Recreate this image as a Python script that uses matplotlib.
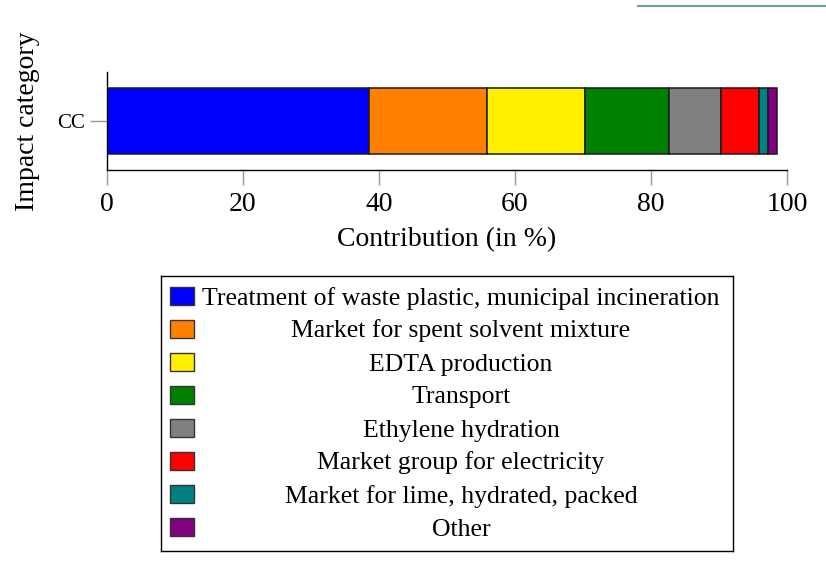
import matplotlib
matplotlib.use("Agg")
import matplotlib.pyplot as plt
from matplotlib.patches import Rectangle
from matplotlib.lines import Line2D

plt.rcParams['font.family'] = ['Liberation Serif', 'DejaVu Serif']

# contributions to climate change (CC), in %
category = ["CC"]
processes = [
    "Treatment of waste plastic, municipal incineration",
    "Market for spent solvent mixture",
    "EDTA production",
    "Transport",
    "Ethylene hydration",
    "Market group for electricity",
    "Market for lime, hydrated, packed",
    "Other",
]
shares = [38.6, 17.3, 14.4, 12.3, 7.7, 5.6, 1.35, 1.35]
colors = ["#0000ff", "#ff8000", "#fff000", "#008000",
          "#808080", "#ff0000", "#008080", "#800080"]
x_ticks = [0, 20, 40, 60, 80, 100]

W, H = 826, 561
fig = plt.figure(figsize=(W / 100, H / 100), dpi=100)

def px_axes(left, top, right, bottom):
    return fig.add_axes([left / W, 1 - bottom / H, (right - left) / W, (bottom - top) / H])

# stacked bar
ax = px_axes(107, 72, 787, 170)
left = 0
for name, val, col in zip(processes, shares, colors):
    ax.barh(category, [val], left=left, height=1.0, color=col,
            edgecolor="#1a1a1a", linewidth=1.1, label=name)
    left += val

ax.set_xlim(0, 100)
ax.set_ylim(-0.75, 0.75)
ax.set_xticks(x_ticks)
ax.spines['top'].set_visible(False)
ax.spines['right'].set_visible(False)
for s in ('left', 'bottom'):
    ax.spines[s].set_linewidth(1.0)
ax.tick_params(axis='x', direction='out', length=11, width=1.0, color='#999999',
               labelsize=20, pad=5)
ax.tick_params(axis='y', direction='out', length=12, width=1.0, color='#999999',
               labelsize=15, pad=4)
ax.set_xlabel("Contribution (in %)", fontsize=20, labelpad=7)
ax.set_ylabel("Impact category", fontsize=20)
ax.yaxis.set_label_coords(-0.099, 0.5)

# legend box with centred entries
lax = px_axes(161, 276, 733, 551)
lax.set_xlim(0, 572)
lax.set_ylim(275, 0)
lax.set_xticks([])
lax.set_yticks([])
for s in lax.spines.values():
    s.set_linewidth(1.0)
for i, (name, col) in enumerate(zip(processes, colors)):
    y = 20 + 33 * i
    lax.add_patch(Rectangle((9, y - 9), 24, 18, facecolor=col,
                            edgecolor="#333333", linewidth=1.0))
    lax.text(300, y + 8.5, name, ha='center', va='baseline', fontsize=18.5)

# thin rule in the top corner
fig.add_artist(Line2D([638 / W, 1.0], [1 - 6 / H, 1 - 6 / H],
                      color="#6e9e9e", linewidth=1.5))

fig.savefig("out.png", dpi=100)
